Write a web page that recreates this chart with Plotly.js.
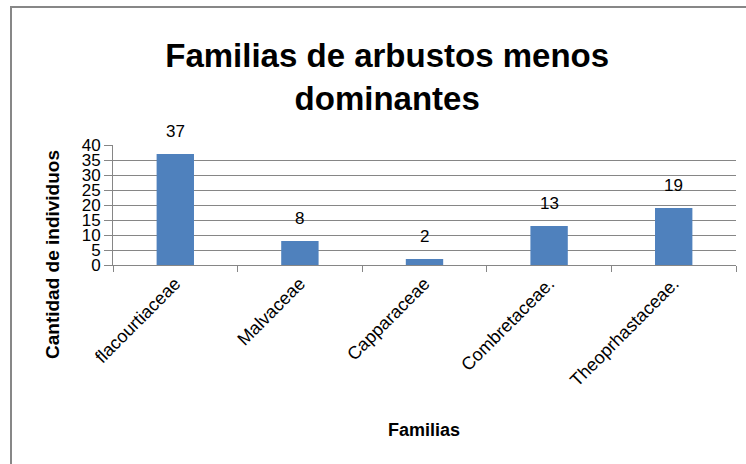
<!DOCTYPE html>
<html>
<head>
<meta charset="utf-8">
<script src="https://cdn.plot.ly/plotly-3.0.1.min.js"></script>
<style>
html,body{margin:0;padding:0;background:#fff;}
#frame{position:absolute;left:10px;top:6px;width:800px;height:600px;border:2px solid #878787;box-sizing:border-box;}
#chart{position:absolute;left:0;top:0;width:746px;height:464px;}
</style>
</head>
<body>
<div id="frame"></div>
<div id="chart"></div>
<script>
var categories = ["flacourtiaceae", "Malvaceae", "Capparaceae", "Combretaceae.", "Theoprhastaceae."];
var values = [37, 8, 2, 13, 19];
var yTicks = [0, 5, 10, 15, 20, 25, 30, 35, 40];

var FONT = "Liberation Sans, Arial, sans-serif";

var trace = {
  type: "bar",
  x: categories,
  y: values,
  marker: {color: "#4F81BD", line: {color: "#4F81BD", width: 0}},
  hoverinfo: "none"
};

var labelAnnotations = categories.map(function (c, i) {
  return {
    x: c, y: values[i], xref: "x", yref: "y",
    text: String(values[i]), showarrow: false,
    xanchor: "center", yanchor: "bottom", yshift: 11,
    font: {family: FONT, size: 17, color: "#000"}
  };
});

var layout = {
  width: 746, height: 464,
  margin: {l: 113, r: 10, t: 145, b: 199, pad: 0},
  paper_bgcolor: "rgba(0,0,0,0)",
  plot_bgcolor: "rgba(0,0,0,0)",
  bargap: 0.7,
  showlegend: false,
  title: {
    text: "Familias de arbustos menos<br>dominantes",
    font: {family: FONT, size: 33, color: "#000", weight: "bold"},
    x: 0.519, xanchor: "center", y: 0.855, yanchor: "top"
  },
  xaxis: {
    type: "category",
    tickangle: -45,
    tickson: "boundaries",
    ticks: "outside", ticklen: 6, tickcolor: "#868686",
    showline: true, linecolor: "#868686", linewidth: 1,
    showgrid: false,
    tickfont: {family: FONT, size: 18, color: "#000"},
    fixedrange: true
  },
  yaxis: {
    range: [0, 40],
    tickvals: yTicks,
    ticktext: yTicks.map(String),
    ticks: "outside", ticklen: 8, tickcolor: "#868686",
    showline: true, linecolor: "#868686", linewidth: 1,
    showgrid: true, gridcolor: "#868686", gridwidth: 1,
    zeroline: false,
    tickfont: {family: FONT, size: 17, color: "#000"},
    fixedrange: true
  },
  annotations: labelAnnotations.concat([
    {text: "Cantidad de individuos", textangle: -90, showarrow: false,
     xref: "paper", yref: "paper", x: 0, y: (265 - 255) / 120, xshift: -61, xanchor: "center", yanchor: "middle",
     font: {family: FONT, size: 19, color: "#000", weight: "bold"}},
    {text: "Familias", showarrow: false,
     xref: "paper", yref: "paper", x: (424 - 113) / 623, y: -(430 - 265) / 120, xanchor: "center", yanchor: "middle",
     font: {family: FONT, size: 18, color: "#000", weight: "bold"}}
  ])
};

Plotly.newPlot("chart", [trace], layout, {displayModeBar: false, staticPlot: true});
</script>
</body>
</html>
